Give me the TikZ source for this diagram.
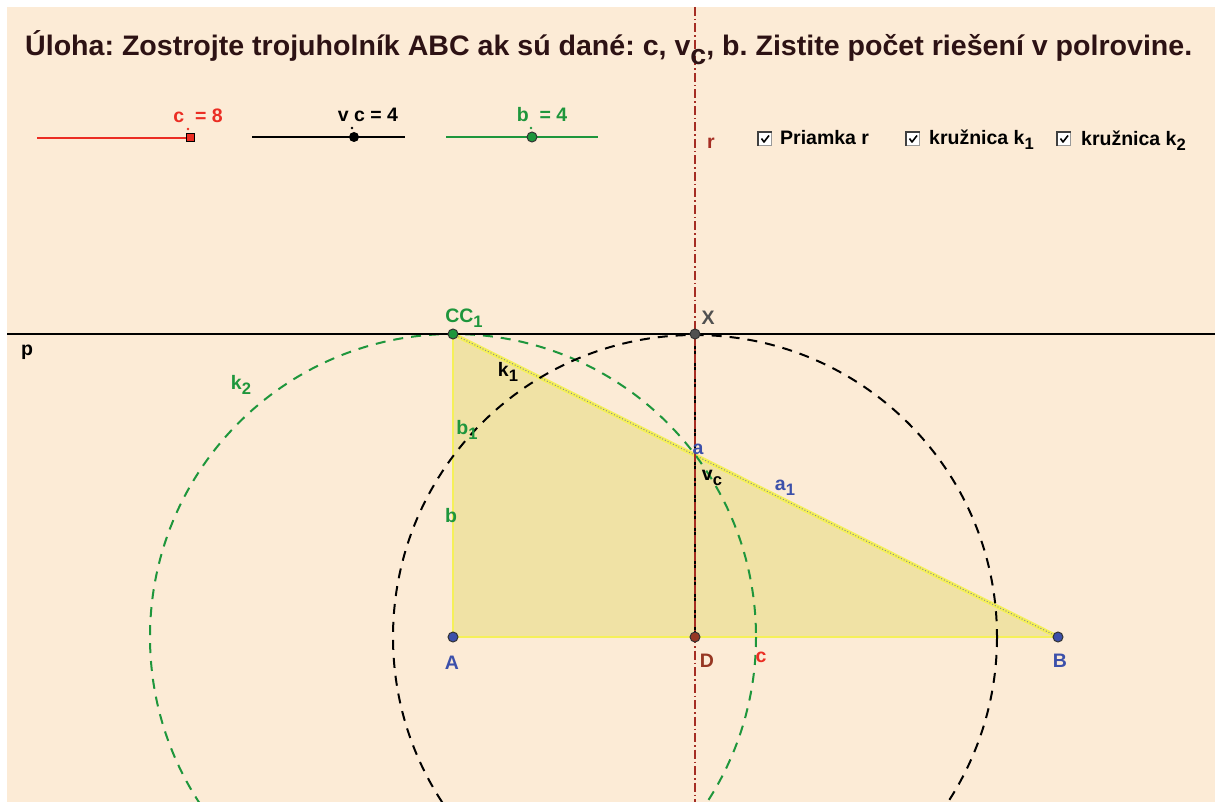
\documentclass[tikz,border=0pt]{standalone}
\usepackage{fontspec}
\setmainfont{Liberation Sans}
\usepackage{graphicx}
\frenchspacing
\newcommand{\sbs}[1]{\raisebox{-0.45ex}{\scalebox{0.85}{#1}}}
\definecolor{bg}{RGB}{252,235,214}
\definecolor{ggreen}{RGB}{30,150,60}
\definecolor{gred}{RGB}{235,45,35}
\definecolor{gblue}{RGB}{60,80,170}
\definecolor{gbrown}{RGB}{150,55,35}
\definecolor{rline}{RGB}{165,45,35}
\definecolor{tri}{RGB}{240,226,165}
\definecolor{triedge}{RGB}{245,240,90}
\definecolor{titlec}{RGB}{45,18,20}
\definecolor{xgray}{RGB}{80,80,80}
\begin{document}
\begin{tikzpicture}[x=1pt,y=-1pt,
  lbl/.style={font=\bfseries\fontsize{19.5}{22}\selectfont, inner sep=0pt},
  chk/.style={font=\bfseries\fontsize{19.5}{22}\selectfont, inner sep=0pt, anchor=base west},
  gpt/.style={circle, inner sep=0pt, minimum size=10pt, draw=black!80, line width=1pt},
  dcirc/.style={dash pattern=on 10pt off 8pt, line width=2pt},
  cbox/.style={draw=black!40, fill=white, line width=0.8pt, minimum size=13pt, inner sep=0pt}
]
\useasboundingbox (0,0) rectangle (1215,802);
\fill[white] (0,0) rectangle (1215,802);
\fill[bg] (7,7) rectangle (1215,802);

% points
\coordinate (Ap) at (453,637);
\coordinate (Bp) at (1058,637);
\coordinate (Cp) at (453,334);
\coordinate (Dp) at (695,637);
\coordinate (Xp) at (695,334);
\coordinate (rtop) at (695,7);
\coordinate (rbot) at (695,802);
\coordinate (pl) at (7,334);
\coordinate (pr) at (1215,334);

% triangle
\fill[tri] (Ap) -- (Bp) -- (Cp) -- cycle;
\draw[triedge, line width=2pt] (Ap) -- (Bp);
\draw[triedge, line width=2pt] (Ap) -- (Cp);
\draw[triedge, line width=4pt] (Cp) -- (Bp);
\draw[black!45, line width=1pt, dotted] (Cp) -- (Bp);

% circles
\begin{scope}
\clip (7,7) rectangle (1215,802);
\draw[ggreen, dcirc] (Ap) circle (303);
\draw[black, dcirc] (Dp) circle (302);
\end{scope}

% lines
\draw[black, line width=1.8pt] (pl) -- (pr);
\draw[black, line width=2.2pt] (Xp) -- (Dp);
\draw[rline, line width=1.3pt, dash pattern=on 9pt off 3pt on 1.5pt off 3pt] (rtop) -- (rbot);

% point markers
\node[gpt, fill=gblue] (A) at (Ap) {};
\node[gpt, fill=gblue] (B) at (Bp) {};
\node[gpt, fill=ggreen] (C) at (Cp) {};
\node[gpt, fill=gbrown] (D) at (Dp) {};
\node[gpt, fill=xgray] (X) at (Xp) {};

% labels
\node[lbl, ggreen] (lC) at (464,318) {CC\sbs{1}};
\node[lbl, xgray] (lX) at (708,318) {X};
\node[lbl, black] (lp) at (27,352) {p};
\node[lbl, ggreen] (lk2) at (241,385) {k\sbs{2}};
\node[lbl, black] (lk1) at (508,372) {k\sbs{1}};
\node[lbl, ggreen] (lb1) at (467,430) {b\sbs{1}};
\node[lbl, ggreen] (lb) at (451,516) {b};
\node[lbl, gblue] (la) at (698,449) {a};
\node[lbl, black] (lvc) at (712,478) {v\sbs{c}};
\node[lbl, gblue] (la1) at (785,488) {a\sbs{1}};
\node[lbl, gblue] (lA) at (452,663) {A};
\node[lbl, gbrown] (lD) at (707,661) {D};
\node[lbl, gred] (lc) at (761,657) {c};
\node[lbl, gblue] (lB) at (1060,661) {B};
\node[lbl, rline] (lr) at (711,143) {r};

% title
\node[anchor=base west, inner sep=0pt, text=titlec] (title) at (25,56)
  {\resizebox{1167pt}{25pt}{\bfseries Úloha: Zostrojte trojuholník ABC ak sú dané: c, v\raisebox{-0.6ex}{c}, b. Zistite počet riešení v polrovine.}};

% sliders
\coordinate (s1a) at (37,138); \coordinate (s1b) at (190,138);
\draw[gred, line width=1.5pt] (s1a) -- (s1b);
\node[draw=black, fill=gred, line width=1pt, minimum size=8pt, inner sep=0pt] (s1) at (s1b) {};
\fill[gred] (188,129) circle (1.4);
\node[lbl, gred] (s1l) at (198,116) {c\ \ = 8};

\coordinate (s2a) at (252,137); \coordinate (s2b) at (405,137);
\draw[black, line width=1.6pt] (s2a) -- (s2b);
\node[circle, fill=black, minimum size=10pt, inner sep=0pt] (s2) at (354,137) {};
\fill[black] (352,128) circle (1.3);
\node[lbl, black] (s2l) at (368,115) {v c = 4};

\coordinate (s3a) at (446,137); \coordinate (s3b) at (598,137);
\draw[ggreen, line width=1.5pt] (s3a) -- (s3b);
\node[circle, fill=ggreen, draw=black!80, line width=1pt, minimum size=10pt, inner sep=0pt] (s3) at (532,137) {};
\fill[ggreen] (531,128) circle (1.4);
\node[lbl, ggreen] (s3l) at (542,115) {b\ \ = 4};

% checkboxes
\foreach \n/\x in {c1/765, c2/913, c3/1064}{
  \node[cbox] (\n) at (\x,139) {};
  \draw[black!75, line width=1.3pt] (\n.south west) -- (\n.north west) -- (\n.north east);
  \draw[black, line width=1.6pt, line join=round] ([xshift=-3.5pt,yshift=0.5pt]\n.center) -- ([xshift=-1pt,yshift=-3pt]\n.center) -- ([xshift=4pt,yshift=3.5pt]\n.center);
}
\node[chk] (t1) at (780,145) {Priamka r};
\node[chk] (t2) at (929,145) {kružnica k\sbs{1}};
\node[chk] (t3) at (1081,146) {kružnica k\sbs{2}};
\end{tikzpicture}
\end{document}
